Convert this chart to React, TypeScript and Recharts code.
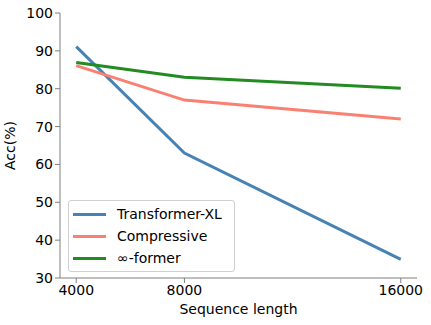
import { LineChart, Line, XAxis, YAxis, Legend } from 'recharts'

const lengths = [4000, 8000, 16000]
const transformerXL = [91.1, 63, 34.9]
const compressive = [86.1, 77, 72]
const infFormer = [86.9, 83, 80.1]
const xTicks = [4000, 8000, 16000]
const yTicks = [30, 40, 50, 60, 70, 80, 90, 100]

const seriesInfo = [
  { key: 'txl', name: 'Transformer-XL', color: '#4682B4' },
  { key: 'comp', name: 'Compressive', color: '#FA8072' },
  { key: 'inf', name: '∞-former', color: '#228B22' },
]

const data = lengths.map((len, i) => ({
  len,
  txl: transformerXL[i],
  comp: compressive[i],
  inf: infFormer[i],
}))

const font = '"DejaVu Sans", sans-serif'
const spine = '#7f7f7f'

function LegendBox() {
  return (
    <div
      style={{
        background: 'rgba(255,255,255,0.85)',
        border: '1px solid #d0d0d0',
        borderRadius: 3,
        padding: '2px 6px 2px 4px',
        fontFamily: font,
        fontSize: 14,
        color: '#000',
        width: 155,
      }}
    >
      {seriesInfo.map(s => (
        <div key={s.key} style={{ display: 'flex', alignItems: 'center', height: 22 }}>
          <div style={{ width: 33, height: 3, background: s.color, marginRight: 11 }} />
          <span>{s.name}</span>
        </div>
      ))}
    </div>
  )
}

export default function App() {
  return (
    <div style={{ position: 'absolute', left: 0, top: 0, background: '#fff' }}>
      <LineChart width={431} height={325} data={data} margin={{ top: 13, right: 14, left: 10, bottom: 7 }}>
        <XAxis
          dataKey="len"
          type="number"
          domain={[3400, 16600]}
          ticks={xTicks}
          interval={0}
          stroke={spine}
          tick={{ fill: '#000', fontSize: 14, fontFamily: font }}
          tickSize={5}
          height={40}
          label={{ value: 'Sequence length', position: 'insideBottom', offset: 4, fill: '#000', fontSize: 14, fontFamily: font }}
        />
        <XAxis xAxisId="top" orientation="top" dataKey="len" type="number" domain={[3400, 16600]} stroke={spine} tick={false} tickLine={false} height={0} />
        <YAxis
          type="number"
          domain={[30, 100]}
          ticks={yTicks}
          interval={0}
          stroke={spine}
          tick={{ fill: '#000', fontSize: 14, fontFamily: font }}
          tickSize={5}
          width={50}
          label={{ value: 'Acc(%)', angle: -90, position: 'insideLeft', offset: 0, fill: '#000', fontSize: 14, fontFamily: font, style: { textAnchor: 'middle' } }}
        />
        <YAxis yAxisId="right" orientation="right" domain={[30, 100]} stroke="#222" tick={false} tickLine={false} width={0} />
        <Legend
          layout="horizontal"
          verticalAlign="middle"
          align="center"
          content={() => <LegendBox />}
          wrapperStyle={{ position: 'absolute', left: 68, top: 200, width: 'auto', height: 'auto' }}
        />
        {seriesInfo.map(s => (
          <Line
            key={s.key}
            type="linear"
            dataKey={s.key}
            name={s.name}
            stroke={s.color}
            strokeWidth={3}
            dot={false}
            isAnimationActive={false}
          />
        ))}
      </LineChart>
    </div>
  )
}
